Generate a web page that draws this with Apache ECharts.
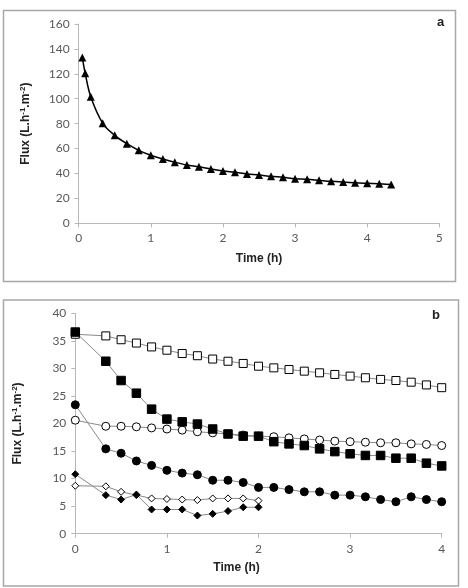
<!DOCTYPE html>
<html>
<head>
<meta charset="utf-8">
<script src="https://cdn.jsdelivr.net/npm/echarts@6/dist/echarts.min.js"></script>
<style>
  html, body { margin: 0; padding: 0; background: #fff; }
  #chart { width: 468px; height: 588px; }
</style>
</head>
<body>
<div id="chart"></div>
<script>
// panel a: single run, flux decline
const timeA = [0.05, 0.09, 0.167, 0.333, 0.5, 0.667, 0.833, 1, 1.167, 1.333, 1.5, 1.667, 1.833, 2,
    2.167, 2.333, 2.5, 2.667, 2.833, 3, 3.167, 3.333, 3.5, 3.667, 3.833, 4, 4.167, 4.333];
const fluxA = [133.2, 120.4, 101.6, 80.3, 70.6, 63.9, 58.6, 54.6, 51.6, 49.0, 46.8, 45.4, 43.6, 42.0,
    40.9, 39.6, 38.8, 37.7, 36.9, 35.8, 35.3, 34.5, 33.7, 33.1, 32.6, 32.1, 31.8, 31.1];

// panel b: five runs
const timeB = [0, 0.333, 0.5, 0.667, 0.833, 1, 1.167, 1.333, 1.5, 1.667, 1.833, 2,
    2.167, 2.333, 2.5, 2.667, 2.833, 3, 3.167, 3.333, 3.5, 3.667, 3.833, 4];
const openSquare = [36.2, 35.9, 35.2, 34.6, 33.9, 33.3, 32.7, 32.3, 31.7, 31.3, 30.9, 30.4,
    30.1, 29.8, 29.5, 29.2, 28.9, 28.6, 28.3, 28.0, 27.8, 27.5, 27.0, 26.5];
const filledSquare = [36.6, 31.3, 27.8, 25.5, 22.6, 20.8, 20.3, 19.9, 19.0, 18.1, 17.7, 17.7,
    16.7, 16.3, 16.0, 15.4, 14.9, 14.5, 14.2, 14.2, 13.7, 13.7, 12.8, 12.3];
const openCircle = [20.6, 19.5, 19.5, 19.4, 19.2, 19.0, 18.8, 18.5, 18.3, 18.1, 17.9, 17.7,
    17.6, 17.4, 17.2, 17.0, 16.8, 16.7, 16.6, 16.5, 16.5, 16.3, 16.2, 16.0];
const filledCircle = [23.4, 15.4, 14.6, 13.2, 12.4, 11.5, 11.0, 10.7, 9.7, 9.7, 9.3, 8.4,
    8.4, 8.0, 7.6, 7.6, 7.0, 7.0, 6.7, 6.2, 5.8, 6.7, 6.2, 5.8];
const openDiamond = [8.7, 8.6, 7.6, 7.0, 6.4, 6.3, 6.2, 6.1, 6.4, 6.4, 6.4, 6.0];
const filledDiamond = [10.8, 7.0, 6.2, 7.1, 4.4, 4.4, 4.4, 3.3, 3.6, 4.1, 4.8, 4.8];

const ticksA = { x: [0, 5, 1], y: [0, 160, 20] };
const ticksB = { x: [0, 4, 1], y: [0, 40, 5] };

const axisGray = '#b8b8b8';
const labelGray = '#595959';
const tickFont = 'Lato, "Open Sans", sans-serif';
const titleFont = '"Liberation Sans", Arial, sans-serif';

function pairs(xs, ys) {
    return ys.map(function (v, i) { return [xs[i], v]; });
}

function valueAxis(gridIndex, range, extra) {
    const axis = {
        type: 'value',
        gridIndex: gridIndex,
        min: range[0],
        max: range[1],
        interval: range[2],
        splitLine: { show: false },
        axisLine: { show: true, lineStyle: { color: axisGray, width: 1 } },
        axisTick: { show: true, length: 4, lineStyle: { color: axisGray } },
        axisLabel: { color: labelGray, fontFamily: tickFont, fontSize: 12, margin: 9 },
        nameTextStyle: { fontFamily: titleFont, fontWeight: 'bold', fontSize: 12, color: '#222' }
    };
    return Object.assign(axis, extra);
}

const fluxName = '{b|Flux (L.h}{s|-1}{b|.m}{s|-2}{b|)}';
const fluxRich = {
    b: { fontFamily: titleFont, fontWeight: 'bold', fontSize: 12, color: '#222', lineHeight: 14 },
    s: { fontFamily: titleFont, fontWeight: 'bold', fontSize: 8, color: '#222', lineHeight: 14, verticalAlign: 'top' }
};

function lineSeries(xs, ys, symbol, filled, size) {
    return {
        type: 'line',
        xAxisIndex: 1,
        yAxisIndex: 1,
        data: pairs(xs, ys),
        symbol: symbol,
        symbolSize: size,
        showSymbol: true,
        animation: false,
        lineStyle: { color: '#8a8a8a', width: 1 },
        itemStyle: {
            color: filled ? '#000' : '#fff',
            borderColor: '#000',
            borderWidth: 1
        }
    };
}

const option = {
    backgroundColor: '#fff',
    animation: false,
    graphic: [
        { type: 'rect', shape: { x: 3.5, y: 10.5, width: 452, height: 271 },
          style: { fill: 'none', stroke: '#a8a8a8', lineWidth: 1.5 }, z: -1 },
        { type: 'rect', shape: { x: 3.5, y: 300, width: 455, height: 286 },
          style: { fill: 'none', stroke: '#a8a8a8', lineWidth: 1.5 }, z: -1 },
        { type: 'text', left: 437, top: 16,
          style: { text: 'a', font: 'bold 13px ' + titleFont, fill: '#222' } },
        { type: 'text', left: 432, top: 309,
          style: { text: 'b', font: 'bold 13px ' + titleFont, fill: '#222' } }
    ],
    grid: [
        { left: 78.7, top: 24, width: 360.6, height: 199.3 },
        { left: 75.3, top: 313.3, width: 366.4, height: 220.4 }
    ],
    xAxis: [
        valueAxis(0, ticksA.x, { name: 'Time (h)', nameLocation: 'middle', nameGap: 29 }),
        valueAxis(1, ticksB.x, { name: 'Time (h)', nameLocation: 'middle', nameGap: 28 })
    ],
    yAxis: [
        valueAxis(0, ticksA.y, { name: fluxName, nameLocation: 'middle', nameGap: 46 }),
        valueAxis(1, ticksB.y, { name: fluxName, nameLocation: 'middle', nameGap: 51 })
    ],
    series: [
        {
            type: 'line',
            xAxisIndex: 0,
            yAxisIndex: 0,
            data: pairs(timeA, fluxA),
            smooth: 0.35,
            symbol: 'triangle',
            symbolSize: 8,
            lineStyle: { color: '#000', width: 1.5 },
            itemStyle: { color: '#000' }
        },
        lineSeries(timeB, openSquare, 'rect', false, 8),
        lineSeries(timeB, openCircle, 'circle', false, 8),
        lineSeries(timeB, filledSquare, 'rect', true, 8.5),
        lineSeries(timeB, filledCircle, 'circle', true, 8),
        lineSeries(timeB.slice(0, openDiamond.length), openDiamond, 'diamond', false, 7),
        lineSeries(timeB.slice(0, filledDiamond.length), filledDiamond, 'diamond', true, 7)
    ]
};

// rich text for the rotated flux titles
option.yAxis.forEach(function (ax) { ax.nameTextStyle.rich = fluxRich; });
option.xAxis[1].nameTextStyle = Object.assign({}, option.xAxis[1].nameTextStyle, { padding: [0, 44, 0, 0] });

const chart = echarts.init(document.getElementById('chart'), null, { renderer: 'canvas' });
chart.setOption(option);
</script>
</body>
</html>
